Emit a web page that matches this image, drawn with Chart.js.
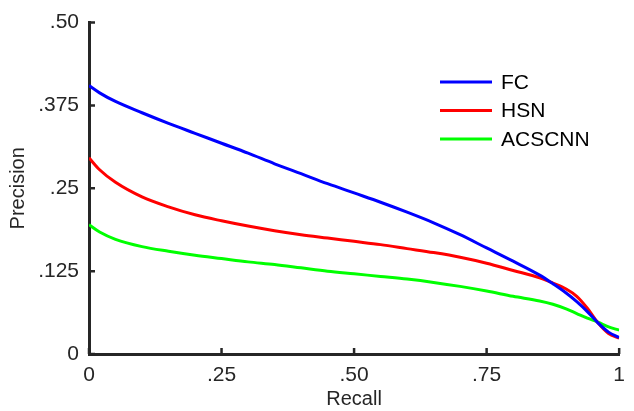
<!DOCTYPE html>
<html>
<head>
<meta charset="utf-8">
<script src="https://cdn.jsdelivr.net/npm/chart.js@4/dist/chart.umd.min.js"></script>
<style>
  html, body { margin: 0; padding: 0; background: #fff; }
  #wrap { width: 634px; height: 411px; }
</style>
</head>
<body>
<div id="wrap"><canvas id="prChart"></canvas></div>
<script>
// recall positions where the curves were read
const recall = [0, .02, .05, .1, .15, .2, .25, .3, .35, .4, .45, .5, .55, .6, .65, .7, .75, .8, .85, .875, .9, .92, .94, .96, .98, 1]

const precFC = [.405, .394, .381, .364, .348, .333, .318, .303, .287, .272, .257, .243, .229, .214, .198, .180, .160, .140, .119, .106, .092, .079, .064, .047, .033, .025]
const precHSN = [.296, .278, .259, .237, .222, .210, .201, .193, .186, .180, .175, .170, .165, .159, .153, .146, .137, .126, .115, .107, .098, .087, .069, .047, .031, .024]
const precACSCNN = [.195, .184, .173, .162, .155, .149, .144, .139, .135, .130, .125, .121, .117, .113, .108, .102, .095, .087, .080, .075, .068, .061, .054, .048, .041, .036]

const xTicks = [0, .25, .5, .75, 1]
const xTickLabels = ['0', '.25', '.50', '.75', '1']
const yTicks = [0, .125, .25, .375, .5]
const yTickLabels = ['0', '.125', '.25', '.375', '.50']

const seriesNames = ['FC', 'HSN', 'ACSCNN']
const seriesColors = ['rgb(0, 0, 255)', 'rgb(255, 0, 0)', 'rgb(0, 255, 0)']

const axisColor = '#262626'
const font = 'Liberation Sans, Arial, Helvetica, sans-serif'

function pts(ys) {
    return recall.map((x, i) => ({ x: x, y: ys[i] }))
}

const allSeries = [precFC, precHSN, precACSCNN]

const data = {
    datasets: allSeries.map((ys, i) => ({
        label: seriesNames[i],
        data: pts(ys),
        borderColor: seriesColors[i],
        backgroundColor: seriesColors[i],
        borderWidth: 3,
        pointRadius: 0,
        fill: false,
        cubicInterpolationMode: 'monotone'
    }))
}

// inward tick marks, like the original
const innerTicks = {
    id: 'innerTicks',
    afterDraw(chart) {
        const ctx = chart.ctx
        const xs = chart.scales.x, ys = chart.scales.y
        const area = chart.chartArea
        ctx.save()
        ctx.strokeStyle = axisColor
        ctx.lineWidth = 2.5
        ctx.beginPath()
        xTicks.forEach(v => {
            const px = xs.getPixelForValue(v)
            ctx.moveTo(px, area.bottom)
            ctx.lineTo(px, area.bottom - 6)
        })
        yTicks.forEach(v => {
            const py = ys.getPixelForValue(v)
            ctx.moveTo(area.left, py)
            ctx.lineTo(area.left + 6, py)
        })
        ctx.stroke()
        ctx.restore()
    }
}

// legend drawn inside the plot, upper right
const insideLegend = {
    id: 'insideLegend',
    afterDraw(chart) {
        const ctx = chart.ctx
        ctx.save()
        ctx.font = '21px ' + font
        ctx.textBaseline = 'middle'
        chart.data.datasets.forEach((ds, i) => {
            const y = 82 + i * 28.5
            ctx.strokeStyle = ds.borderColor
            ctx.lineWidth = 3
            ctx.beginPath()
            ctx.moveTo(440, y)
            ctx.lineTo(492, y)
            ctx.stroke()
            ctx.fillStyle = '#000'
            ctx.fillText(ds.label, 501, y + 1)
        })
        ctx.restore()
    }
}

const config = {
    type: 'line',
    data: data,
    options: {
        responsive: true,
        maintainAspectRatio: false,
        animation: false,
        layout: { padding: { left: 0, right: 5, top: 17, bottom: 0 } },
        plugins: {
            legend: { display: false },
            tooltip: { enabled: false }
        },
        scales: {
            x: {
                type: 'linear',
                min: 0,
                max: 1,
                afterBuildTicks: s => { s.ticks = xTicks.map(v => ({ value: v })) },
                afterFit: s => { s.height = 57 },
                grid: { display: true, drawOnChartArea: false, drawTicks: false },
                border: { display: true, color: axisColor, width: 3 },
                ticks: {
                    padding: 9,
                    color: axisColor,
                    font: { family: font, size: 21 },
                    maxRotation: 0,
                    callback: v => xTickLabels[xTicks.indexOf(v)]
                },
                title: {
                    display: true,
                    text: 'Recall',
                    color: axisColor,
                    font: { family: font, size: 20 },
                    padding: { top: 0, bottom: 0 }
                }
            },
            y: {
                min: 0,
                max: 0.5,
                afterBuildTicks: s => { s.ticks = yTicks.map(v => ({ value: v })) },
                afterFit: s => { s.width = 89 },
                grid: { display: true, drawOnChartArea: false, drawTicks: false },
                border: { display: true, color: axisColor, width: 3 },
                ticks: {
                    padding: 10,
                    color: axisColor,
                    font: { family: font, size: 21 },
                    callback: v => yTickLabels[yTicks.indexOf(v)]
                },
                title: {
                    display: true,
                    text: 'Precision',
                    color: axisColor,
                    font: { family: font, size: 20 },
                    padding: { top: 6, bottom: 0 }
                }
            }
        }
    },
    plugins: [innerTicks, insideLegend]
}

new Chart(document.getElementById('prChart').getContext('2d'), config)
</script>
</body>
</html>
